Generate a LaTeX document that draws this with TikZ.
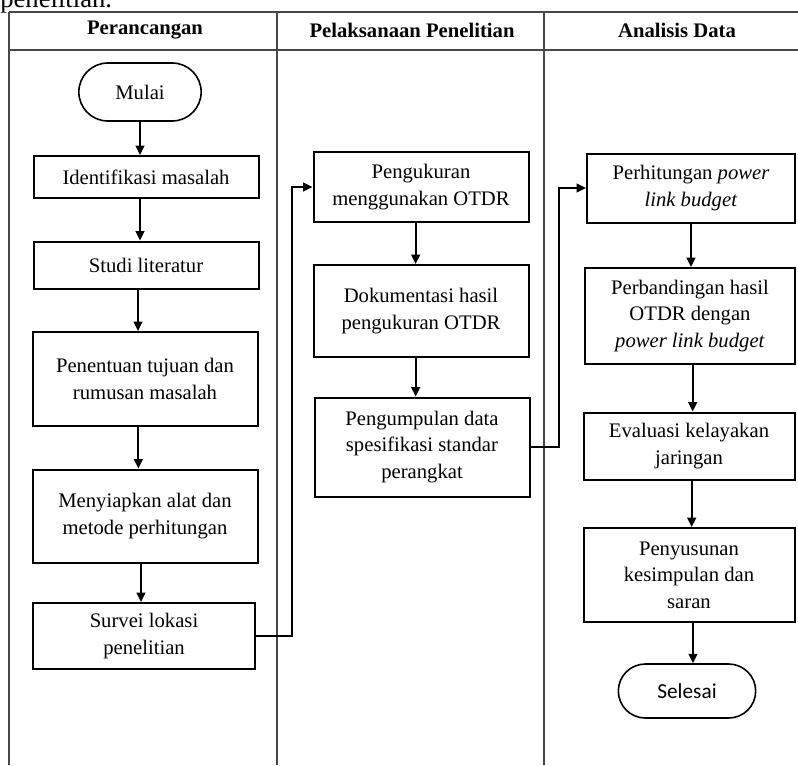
\documentclass[tikz,border=0pt]{standalone}
\usepackage{fontspec}
\setmainfont{Liberation Serif}
\newfontfamily\sansc{Carlito}
\usetikzlibrary{arrows.meta,shapes.misc}

\begin{document}
\begin{tikzpicture}[x=0.75pt,y=-0.75pt,
  txt/.style={font=\fontsize{15.5}{20}\selectfont},
  box/.style={txt, draw, line width=1.5pt, rectangle, inner sep=1pt, align=center},
  term/.style={txt, draw, line width=1.2pt, rounded rectangle, inner sep=1pt, align=center},
  arr/.style={line width=1.5pt, -{Triangle[length=7pt,width=6.5pt]}},
  gridline/.style={line width=1pt, draw=black!72},
  head/.style={font=\bfseries\fontsize{15.5}{18}\selectfont, inner sep=0pt}]

\useasboundingbox (0,0) rectangle (798,765);
\fill[white] (0,0) rectangle (798,765);

% clipped paragraph fragment
\begin{scope}
\clip (0,0) rectangle (798,765);
\node[anchor=base west, inner sep=0pt, font=\fontsize{20}{20}\selectfont] (para) at (0,7) {penelitian.};
\end{scope}

% table grid
\draw[gridline] (9,12) -- (798,12);
\draw[gridline] (9,50) -- (798,50);
\draw[gridline] (9,12) -- (9,765);
\draw[gridline] (277,12) -- (277,765);
\draw[gridline] (544,12) -- (544,765);

% headers
\node[head] (h1) at (145,30) {Perancangan};
\node[head] (h2) at (412,30) {Pelaksanaan Penelitian};
\node[head] (h3) at (677,30) {Analisis Data};

% column 1
\node[term, minimum width=125*0.75pt, minimum height=58*0.75pt] (mulai) at (140,92) {Mulai};
\node[box, minimum width=225*0.75pt, minimum height=42*0.75pt] (ident) at (146,177) {Identifikasi masalah};
\node[box, minimum width=225*0.75pt, minimum height=47*0.75pt] (studi) at (146,265) {Studi literatur};
\node[box, minimum width=225*0.75pt, minimum height=94*0.75pt] (tujuan) at (145,379) {Penentuan tujuan dan\\rumusan masalah};
\node[box, minimum width=225*0.75pt, minimum height=93*0.75pt] (alat) at (145,516) {Menyiapkan alat dan\\metode perhitungan};
\node[box, minimum width=222*0.75pt, minimum height=66*0.75pt] (survei) at (144,636) {Survei lokasi\\penelitian};

% column 2
\node[box, minimum width=215*0.75pt, minimum height=70*0.75pt] (ukur) at (421,187) {Pengukuran\\menggunakan OTDR};
\node[box, minimum width=215*0.75pt, minimum height=92*0.75pt] (dok) at (421,311) {Dokumentasi hasil\\pengukuran OTDR};
\node[box, minimum width=215*0.75pt, minimum height=99*0.75pt] (kumpul) at (422,447) {Pengumpulan data\\spesifikasi standar\\perangkat};

% column 3
\node[box, minimum width=208*0.75pt, minimum height=69*0.75pt] (hitung) at (691,188) {Perhitungan \textit{power}\\\textit{link budget}};
\node[box, minimum width=210*0.75pt, minimum height=96*0.75pt] (banding) at (690,316) {Perbandingan hasil\\OTDR dengan\\\textit{power link budget}};
\node[box, minimum width=211*0.75pt, minimum height=67*0.75pt] (eval) at (689,446) {Evaluasi kelayakan\\jaringan};
\node[box, minimum width=211*0.75pt, minimum height=94*0.75pt] (susun) at (689,575) {Penyusunan\\kesimpulan dan\\saran};
\node[term, font=\sansc\fontsize{16}{18}\selectfont, minimum width=140*0.75pt, minimum height=54*0.75pt] (selesai) at (687,691) {Selesai};

% arrows column 1
\draw[arr] (mulai.south) -- (mulai.south |- ident.north);
\draw[arr] (ident.south -| mulai.south) -- (mulai.south |- studi.north);
\draw[arr] ([xshift=-6pt]studi.south) -- ([xshift=-6pt]studi.south |- tujuan.north);
\draw[arr] ([xshift=-5pt]tujuan.south) -- ([xshift=-5pt]tujuan.south |- alat.north);
\draw[arr] ([xshift=-3pt]alat.south) -- ([xshift=-3pt]alat.south |- survei.north);
\draw[arr] (survei.east) -- ++(36,0) |- (ukur.west);

% arrows column 2
\draw[arr] ([xshift=-4pt]ukur.south) -- ([xshift=-4pt]ukur.south |- dok.north);
\draw[arr] ([xshift=-4pt]dok.south) -- ([xshift=-4pt]dok.south |- kumpul.north);
\draw[arr] (kumpul.east) -- ++(28,0) |- (hitung.west);

% arrows column 3
\draw[arr] (hitung.south) -- (hitung.south |- banding.north);
\draw[arr] ([xshift=2pt]banding.south) -- ([xshift=2pt]banding.south |- eval.north);
\draw[arr] ([xshift=2pt]eval.south) -- ([xshift=2pt]eval.south |- susun.north);
\draw[arr] ([xshift=3pt]susun.south) -- ([xshift=3pt]susun.south |- selesai.north);

\end{tikzpicture}
\end{document}
